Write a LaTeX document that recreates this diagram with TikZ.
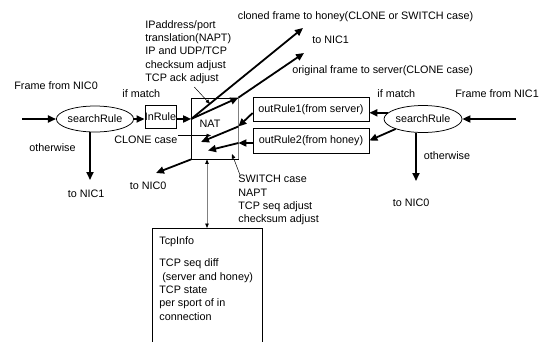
\documentclass[tikz,border=0pt]{standalone}
\usepackage{fontspec}
\setmainfont{Liberation Sans}
\usepackage{tikz}
\usetikzlibrary{positioning,shapes,fit,arrows.meta,calc}
\tikzset{every picture/.style={line width=0.75pt}}
\tikzset{
    flow/.style={line width=1.8pt,-{Triangle[length=8pt,width=7pt]}},
    note/.style={line width=0.5pt,-{Triangle[length=4.5pt,width=3.5pt]}},
    rulebox/.style={draw,line width=0.75pt,inner sep=0pt},
    lbl/.style={inner sep=0pt,anchor=west},
    blk/.style={inner sep=0pt,anchor=north west,align=left}
}

\begin{document}
\begin{tikzpicture}[x=1pt,y=1pt,yscale=-1,xscale=1,font=\fontsize{10.8}{13.3}\selectfont]
\useasboundingbox (0,0) rectangle (543,341);
\clip (0,0) rectangle (543,341);

%Shape: Ellipse
                \node (sr0) [ellipse,draw,minimum width=70,minimum height=26,inner sep=0pt] at (95,119) {searchRule};
%Shape: Ellipse
                \node (sr1) [ellipse,draw,minimum width=78,minimum height=27,inner sep=0pt] at (423,119) {searchRule};
%Shape: Rectangle
                \node (inrule) [rulebox,minimum width=31,minimum height=23] at (160.5,117) {InRule};
%Shape: Rectangle
                \node (nat) [rulebox,minimum width=46.5,minimum height=61] at (214.75,128.5) {};
                \draw [gray] (nat.north east) -- (nat.south east);
%Shape: Rectangle
                \node (or1) [rulebox,minimum width=116,minimum height=24.5] at (311,109.5) {outRule1(from server)};
%Shape: Rectangle
                \node (or2) [rulebox,minimum width=116,minimum height=25] at (311,140.5) {outRule2(from honey)};
%Shape: Rectangle
                \node (tcp) [rulebox,minimum width=110,minimum height=130,anchor=north] at (207,228) {};

% Text Node
                \node (natlbl) at (210,124) {NAT};
% Text Node
                \node (fromnic0) [lbl] at (14,86) {Frame from NIC0};
% Text Node
                \node (ifmatch0) [lbl] at (122,94) {if match};
% Text Node
                \node (otherwise0) [lbl] at (29,148) {otherwise};
% Text Node
                \node (tonic1a) [lbl] at (67.5,194) {to NIC1};
% Text Node
                \node (clonecase) [lbl] at (114,140) {CLONE case};
% Text Node
                \node (tonic0a) [lbl] at (129.5,186) {to NIC0};
% Text Node
                \node (ipblock) [blk] at (145,20) {IPaddress/port\\translation(NAPT)\\IP and UDP/TCP\\checksum adjust\\TCP ack adjust};
% Text Node
                \node (cloned) [lbl] at (237.5,16.5) {cloned frame to honey(CLONE or SWITCH case)};
% Text Node
                \node (tonic1b) [lbl] at (312,40) {to NIC1};
% Text Node
                \node (original) [lbl] at (292,71) {original frame to server(CLONE case)};
% Text Node
                \node (ifmatch1) [lbl] at (377,94) {if match};
% Text Node
                \node (fromnic1) [lbl] at (455,94) {Frame from NIC1};
% Text Node
                \node (otherwise1) [lbl] at (423.5,156) {otherwise};
% Text Node
                \node (tonic0b) [lbl] at (392.5,203) {to NIC0};
% Text Node
                \node (switchblk) [blk] at (238,175) {SWITCH case\\NAPT\\TCP seq adjust\\checksum adjust};
% Text Node
                \node (tcptxt) [blk] at (159,236.5) {TcpInfo\\[9pt]TCP seq diff\\\ (server and honey)\\TCP state\\per sport of in\\connection};

%Free ends
                \coordinate (in0) at (22,119);
                \coordinate (in1) at (516,119);
                \coordinate (d0) at (90,180);
                \coordinate (d1) at (416,181);
                \coordinate (hny) at (303,28);
                \coordinate (srv) at (304,53);
                \coordinate (nic0) at (156,173);
                \coordinate (s1) at (201,142);
                \coordinate (s2) at (208,150.5);
                \coordinate (cl) at (211,135.5);
                \coordinate (ipnote) at (210,104);
                \coordinate (swnote) at (232,154);
                \coordinate (natin) at (nat.west |- sr0.east);
                \coordinate (natr1) at ($(nat.east)+(0,-2)$);
                \coordinate (natr2) at ($(nat.east)+(0,14.5)$);

%Straight Lines
                \draw [flow] (in0) -- (sr0.west);
                \draw [flow] (sr0.east) -- (sr0.east -| inrule.west);
                \draw [flow] (inrule.east |- sr0.east) -- (natin);
                \draw [flow] (sr0.south -| d0) -- (d0);
                \draw [flow] (natin) -- (nat.north east);
                \draw [flow] (natin) -- (hny);
                \draw [flow] (nat.north east) -- (srv);
                \draw [flow] (nat.south west) -- (nic0);
%Straight Lines
                \draw [flow] (in1) -- (sr1.east);
                \draw [flow] (sr1.170) -- (sr1.170 -| or1.east);
                \draw [flow] (sr1.200) -- (or2.east);
                \draw [flow] (sr1.south -| d1) -- (d1);
                \draw [flow] ($(or1.west)+(0,3.5)$) -- (natr1);
                \draw [flow] (natr1) -- (s1);
                \draw [flow] (or2.west |- natr2) -- (natr2);
                \draw [flow] (natr2) -- (s2);
%Straight Lines
                \draw [note] (clonecase.north east |- cl) -- (cl);
                \draw [note] ($(ipblock.south)+(6,3)$) -- (ipnote);
                \draw [note] ($(switchblk.north west)+(2,0)$) -- (swnote);
                \draw [gray,line width=0.75pt,{Triangle[black,length=4.5pt,width=3.5pt]}-{Triangle[black,length=4.5pt,width=3.5pt]}] (tcp.north |- nat.south) -- (tcp.north);

\end{tikzpicture}
\end{document}
